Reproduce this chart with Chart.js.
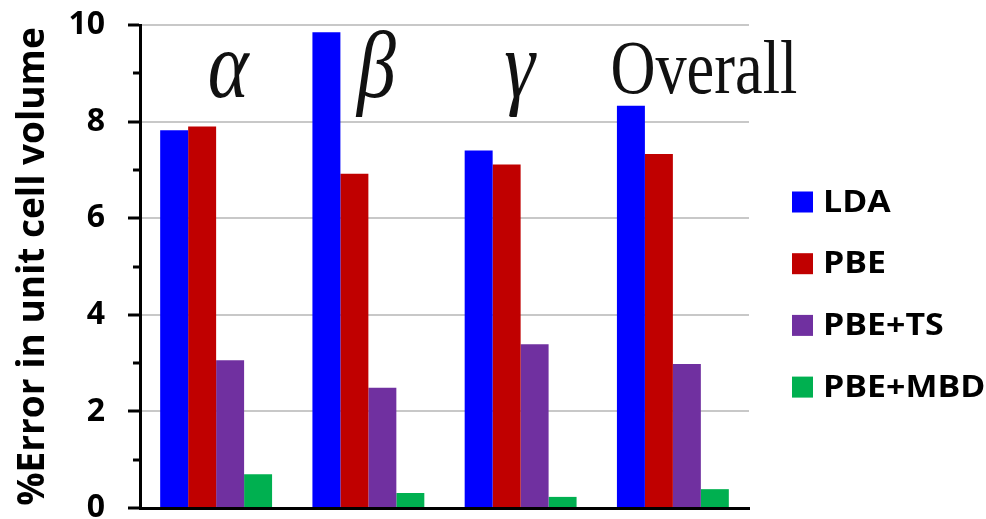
<!DOCTYPE html>
<html>
<head>
<meta charset="utf-8">
<script src="https://cdn.jsdelivr.net/npm/chart.js@4/dist/chart.umd.min.js"></script>
<style>
  html, body { margin: 0; padding: 0; background: #fff; overflow: hidden; }
  #wrap { width: 986px; height: 519px; position: relative; overflow: hidden; }
  #c { display: block; }
</style>
</head>
<body>
<div id="wrap"><canvas id="c" width="986" height="533"></canvas></div>
<script>
// Phases and the functionals compared for each
const categories = ['α', 'β', 'γ', 'Overall'];
const seriesNames = ['LDA', 'PBE', 'PBE+TS', 'PBE+MBD'];

// % error in unit cell volume
const ldaValues    = [7.82, 9.85, 7.40, 8.33];
const pbeValues    = [7.90, 6.92, 7.11, 7.33];
const pbeTsValues  = [3.06, 2.49, 3.39, 2.98];
const pbeMbdValues = [0.70, 0.31, 0.23, 0.39];

// y-axis labelled ticks
const yTicks = [0, 2, 4, 6, 8, 10];

const seriesColors = ['#0000FF', '#C00000', '#7030A0', '#00B050'];
const seriesValues = [ldaValues, pbeValues, pbeTsValues, pbeMbdValues];

const SANS = '"Open Sans", "Liberation Sans", sans-serif';
const SERIF = '"Liberation Serif", "DejaVu Serif", serif';

// Phase names written inside the plot, above each group of bars
const categoryLabelPlugin = {
  id: 'categoryLabels',
  afterDraw(chart, args, opts) {
    const ctx = chart.ctx;
    const xs = chart.scales.x;
    chart.data.labels.forEach((lab, i) => {
      const cx = xs.getPixelForValue(i) + opts.offsets[i];
      const greek = lab !== 'Overall';
      ctx.save();
      ctx.translate(cx, greek ? opts.greekBaseline : opts.wordBaseline);
      ctx.scale(opts.squeeze, 1);
      ctx.font = greek ? 'italic ' + opts.greekSize + 'px ' + SERIF
                       : opts.wordSize + 'px ' + SERIF;
      ctx.fillStyle = '#111';
      ctx.textAlign = 'center';
      ctx.textBaseline = 'alphabetic';
      ctx.fillText(lab, 0, 0);
      ctx.restore();
    });
  }
};

// Shorter tick marks halfway between the labelled y ticks
const minorTickPlugin = {
  id: 'minorTicks',
  afterDraw(chart, args, opts) {
    const ctx = chart.ctx;
    const ys = chart.scales.y;
    const left = chart.chartArea.left;
    ctx.save();
    ctx.strokeStyle = '#000';
    ctx.lineWidth = 3;
    for (let i = 0; i < yTicks.length - 1; i++) {
      const v = (yTicks[i] + yTicks[i + 1]) / 2;
      const y = Math.round(ys.getPixelForValue(v));
      ctx.beginPath();
      ctx.moveTo(left - opts.length, y);
      ctx.lineTo(left, y);
      ctx.stroke();
    }
    ctx.restore();
  }
};

// Legend to the right of the plot
const sideLegendPlugin = {
  id: 'sideLegend',
  afterDraw(chart, args, opts) {
    const ctx = chart.ctx;
    chart.data.datasets.forEach((ds, i) => {
      const cy = opts.top + i * opts.rowGap;
      ctx.fillStyle = ds.backgroundColor;
      ctx.fillRect(opts.x, cy - opts.box / 2, opts.box, opts.box);
      ctx.save();
      ctx.translate(opts.x + opts.box + opts.gap, cy);
      ctx.scale(opts.stretch, 1);
      ctx.font = 'bold ' + opts.size + 'px ' + SANS;
      ctx.fillStyle = '#000';
      ctx.textAlign = 'left';
      ctx.textBaseline = 'middle';
      ctx.fillText(ds.label, 0, 1);
      ctx.restore();
    });
  }
};

new Chart(document.getElementById('c'), {
  type: 'bar',
  data: {
    labels: categories,
    datasets: seriesNames.map((name, i) => ({
      label: name,
      data: seriesValues[i],
      backgroundColor: seriesColors[i],
      borderWidth: 0,
      categoryPercentage: 0.735,
      barPercentage: 1.0
    }))
  },
  options: {
    responsive: false,
    animation: false,
    devicePixelRatio: 1,
    layout: { padding: { left: 0, right: 237, top: 25, bottom: 25 } },
    plugins: {
      legend: { display: false },
      tooltip: { enabled: false },
      categoryLabels: {
        offsets: [12, 8, -1, 31],
        greekBaseline: 97, wordBaseline: 93,
        greekSize: 95, wordSize: 76, squeeze: 0.82
      },
      minorTicks: { length: 7 },
      sideLegend: { x: 792, top: 202, rowGap: 61.7, box: 21, gap: 10, size: 30, stretch: 1.13 }
    },
    scales: {
      x: {
        grid: { display: false },
        ticks: { display: false },
        border: { display: true, color: '#000', width: 3 },
        afterFit(s) { s.height = 0; }
      },
      y: {
        min: 0,
        max: 10,
        afterBuildTicks(s) { s.ticks = yTicks.map(v => ({ value: v })); },
        ticks: {
          color: '#000',
          padding: 23,
          font: { family: SANS, size: 32, weight: 'bold', lineHeight: 0.125 },
          callback: v => String(v)
        },
        grid: {
          color: '#c8c8c8',
          lineWidth: 2,
          tickColor: '#000',
          tickLength: 12,
          tickWidth: 3
        },
        border: { display: true, color: '#000', width: 3 },
        title: {
          display: true,
          text: '%Error in unit cell volume',
          color: '#000',
          font: { family: SANS, size: 37, weight: 'bold', lineHeight: 1.2 },
          padding: { top: 11, bottom: 0 }
        },
        afterFit(s) { s.width = 140; }
      }
    }
  },
  plugins: [categoryLabelPlugin, minorTickPlugin, sideLegendPlugin]
});
</script>
</body>
</html>
